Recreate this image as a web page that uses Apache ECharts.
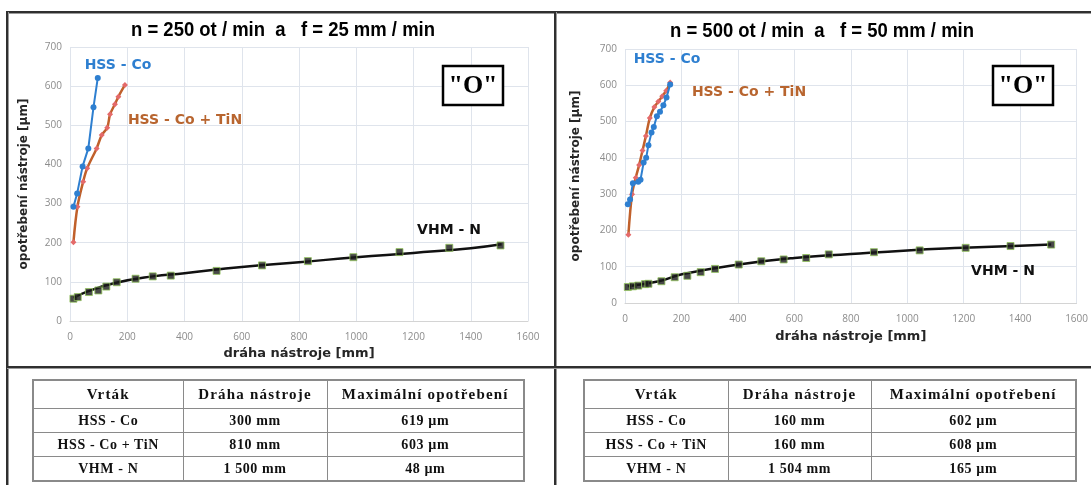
<!DOCTYPE html>
<html><head><meta charset="utf-8">
<script src="https://cdn.jsdelivr.net/npm/echarts@6/dist/echarts.min.js"></script>
<style>
html,body{margin:0;padding:0;background:#fff;}
#wrap{position:relative;width:1091px;height:485px;overflow:hidden;background:#fff;}
#chart{position:absolute;left:0;top:0;width:1091px;height:485px;}
.ln{position:absolute;background:#2f2f2f;}
table.t{position:absolute;border-collapse:collapse;font-family:"Liberation Serif","Times New Roman",serif;font-weight:bold;color:#111;text-align:center;border:2px solid #8a8a8a;table-layout:fixed;}
table.t td{border:1px solid #8a8a8a;padding:0;font-size:14px;letter-spacing:0.6px;white-space:nowrap;}
table.t tr.h td{height:27px;font-size:15px;letter-spacing:1.2px;}
table.t tr.b td{height:23px;}
</style></head>
<body><div id="wrap"><div id="chart"></div></div>
<script>
// ---------- data ----------
const titles = ['n = 250 ot / min  a   f = 25 mm / min', 'n = 500 ot / min  a   f = 50 mm / min'];
const xName = 'dráha nástroje [mm]';
const yName = 'opotřebení nástroje [µm]';
const seriesNames = ['HSS - Co', 'HSS - Co + TiN', 'VHM - N'];

// left chart (n = 250)
const hssL_x = [12, 25, 44, 64, 82, 97];
const hssL_y = [292, 326, 395, 441, 546, 621];
const tinL_x = [12, 26, 46, 60, 93, 111, 130, 140, 157, 169, 192];
const tinL_y = [201, 292, 356, 390, 441, 475, 494, 528, 554, 573, 603];
const vhmL_x = [12, 27, 66, 99, 127, 163, 229, 289, 352, 512, 671, 831, 990, 1151, 1325, 1504];
const vhmL_y = [57, 61, 74, 78, 88, 99, 108, 114, 116, 128, 142, 153, 163, 176, 187, 193];
const vhmLline_x = [12, 60, 157, 289, 400, 600, 800, 1000, 1200, 1400, 1508];
const vhmLline_y = [59, 75, 97, 114, 122, 138, 150, 163, 174, 186, 196];

// right chart (n = 500)
const hssR_x = [10, 18, 28, 47, 55, 66, 75, 83, 94, 102, 113, 124, 136, 147, 160];
const hssR_y = [272, 285, 330, 334, 340, 387, 400, 435, 470, 485, 515, 527, 545, 566, 602];
const tinR_x = [12, 25, 38, 50, 62, 74, 88, 104, 118, 132, 146, 160];
const tinR_y = [188, 300, 345, 380, 420, 460, 510, 540, 555, 570, 585, 608];
const vhmR_x = [10, 28, 47, 71, 83, 129, 176, 221, 268, 319, 403, 483, 562, 642, 722, 882, 1044, 1207, 1366, 1510];
const vhmR_y = [44, 46, 48, 52, 53, 60, 71, 75, 85, 94, 106, 115, 120, 124, 134, 140, 145, 152, 157, 161];
const vhmRline_x = [10, 120, 206, 403, 600, 800, 1000, 1200, 1400, 1510];
const vhmRline_y = [46, 60, 80, 106, 124, 135, 145, 152, 158, 161];

// tables
const tableHead = ['Vrták', 'Dráha nástroje', 'Maximální opotřebení'];
const tableDrills = ['HSS - Co', 'HSS - Co + TiN', 'VHM - N'];
const pathL = ['300 mm', '810 mm', '1 500 mm'];
const wearL = ['619 µm', '603 µm', '48 µm'];
const pathR = ['160 mm', '160 mm', '1 504 mm'];
const wearR = ['602 µm', '608 µm', '165 µm'];

// ---------- styling ----------
const BLUE = '#2E7FD0', BROWN = '#C0602B', RED = '#E46A6A', BLACK = '#111';
const AXF = '"Open Sans", "DejaVu Sans", sans-serif';
const LBF = '"DejaVu Sans", sans-serif';
function pairs(xs, ys) { return xs.map((x, i) => [x, ys[i]]); }
const plain = v => String(v);

function xAx(gi, gap) {
  return {
    type: 'value', gridIndex: gi, min: 0, max: 1600, interval: 200,
    name: xName, nameLocation: 'middle', nameGap: gap,
    nameTextStyle: { fontFamily: LBF, fontWeight: 'bold', fontSize: 13, color: '#262626' },
    axisLine: { show: true, lineStyle: { color: '#d4d4d4' } }, axisTick: { show: false },
    axisLabel: { color: '#8c8c8c', fontSize: 10, margin: 11, fontFamily: AXF, formatter: plain },
    splitLine: { show: true, lineStyle: { color: '#dfe4ec' } }
  };
}
function yAx(gi, gap) {
  return {
    type: 'value', gridIndex: gi, min: 0, max: 700, interval: 100,
    name: yName, nameLocation: 'middle', nameGap: gap,
    nameTextStyle: { fontFamily: LBF, fontWeight: 'bold', fontSize: 12, color: '#262626' },
    axisLine: { show: false }, axisTick: { show: false },
    axisLabel: { color: '#8c8c8c', fontSize: 10, margin: 8, fontFamily: AXF, formatter: plain },
    splitLine: { show: true, lineStyle: { color: '#dfe4ec' } }
  };
}
function tinSeries(gi, xs, ys) {
  return { type: 'line', xAxisIndex: gi, yAxisIndex: gi, data: pairs(xs, ys), smooth: 0.35,
    symbol: 'diamond', symbolSize: 6, showSymbol: true,
    lineStyle: { color: BROWN, width: 2.5 }, itemStyle: { color: RED }, z: 3 };
}
function hssSeries(gi, xs, ys) {
  return { type: 'line', xAxisIndex: gi, yAxisIndex: gi, data: pairs(xs, ys),
    symbol: 'circle', symbolSize: 6, lineStyle: { color: BLUE, width: 2 }, itemStyle: { color: BLUE }, z: 4 };
}
function vhmLine(gi, xs, ys) {
  return { type: 'line', xAxisIndex: gi, yAxisIndex: gi, data: pairs(xs, ys), smooth: true,
    symbol: 'none', lineStyle: { color: BLACK, width: 2.5 }, z: 3 };
}
function vhmPts(gi, xs, ys) {
  return { type: 'scatter', xAxisIndex: gi, yAxisIndex: gi, data: pairs(xs, ys),
    symbol: 'rect', symbolSize: 7, itemStyle: { color: '#1a1a1a', borderColor: '#93c45e', borderWidth: 1 }, z: 5 };
}
function txt(x, y, text, font, fill, sx) {
  return { type: 'text', x: x, y: y, z: 100, scaleX: sx || 1,
    style: { text: text, font: font, fill: fill, textAlign: 'center', textVerticalAlign: 'middle' } };
}
function oBox(x, y) {
  return [
    { type: 'rect', shape: { x: x, y: y, width: 60, height: 39 }, style: { fill: '#fff', stroke: '#000', lineWidth: 2.5 }, z: 100 },
    txt(x + 30, y + 20, '"O"', 'bold 26px "Liberation Serif", serif', '#000')
  ];
}

const TF = 'bold 21px "Liberation Sans", Arial, sans-serif';
const chart = echarts.init(document.getElementById('chart'), null, { renderer: 'canvas' });
chart.setOption({
  animation: false,
  backgroundColor: '#fff',
  grid: [
    { left: 70, top: 47, width: 458, height: 274 },
    { left: 625, top: 49, width: 456, height: 254 }
  ],
  xAxis: [xAx(0, 24), xAx(1, 27)],
  yAxis: [yAx(0, 40), yAx(1, 43)],
  series: [
    vhmLine(0, vhmLline_x, vhmLline_y), vhmPts(0, vhmL_x, vhmL_y),
    tinSeries(0, tinL_x, tinL_y), hssSeries(0, hssL_x, hssL_y),
    vhmLine(1, vhmRline_x, vhmRline_y), vhmPts(1, vhmR_x, vhmR_y),
    hssSeries(1, hssR_x, hssR_y), tinSeries(1, tinR_x, tinR_y)
  ],
  graphic: [
    txt(283, 30, titles[0], TF, '#000', 0.88),
    txt(822, 31, titles[1], TF, '#000', 0.88),
    txt(118, 65, seriesNames[0], 'bold 14px ' + LBF, BLUE),
    txt(185, 120, seriesNames[1], 'bold 14px ' + LBF, '#B8652F'),
    txt(449, 230, seriesNames[2], 'bold 14px ' + LBF, '#111'),
    txt(667, 59, seriesNames[0], 'bold 14px ' + LBF, BLUE),
    txt(749, 92, seriesNames[1], 'bold 14px ' + LBF, '#B8652F'),
    txt(1003, 271, seriesNames[2], 'bold 14px ' + LBF, '#111')
  ].concat(oBox(443, 66), oBox(993, 66))
});

// ---------- frame and tables (HTML) ----------
const wrap = document.getElementById('wrap');
function line(l, t, w, h) {
  const d = document.createElement('div'); d.className = 'ln';
  d.style.left = l + 'px'; d.style.top = t + 'px'; d.style.width = w + 'px'; d.style.height = h + 'px';
  d.style.boxShadow = '1px 1px 0 #9a9a9a';
  wrap.appendChild(d);
}
line(6, 11, 1085, 2);
line(6, 11, 2, 474);
line(554, 11, 2, 474);
line(6, 366, 1085, 2);

function makeTable(left, cols, paths, wears) {
  const t = document.createElement('table'); t.className = 't';
  t.style.left = left + 'px'; t.style.top = '379px';
  const cg = document.createElement('colgroup');
  cols.forEach(w => { const c = document.createElement('col'); c.style.width = w + 'px'; cg.appendChild(c); });
  t.appendChild(cg);
  const h = document.createElement('tr'); h.className = 'h';
  tableHead.forEach(s => { const td = document.createElement('td'); td.textContent = s; h.appendChild(td); });
  t.appendChild(h);
  tableDrills.forEach((d, i) => {
    const r = document.createElement('tr'); r.className = 'b';
    [d, paths[i], wears[i]].forEach(s => { const td = document.createElement('td'); td.textContent = s; r.appendChild(td); });
    t.appendChild(r);
  });
  wrap.appendChild(t);
}
makeTable(32, [150, 144, 197], pathL, wearL);
makeTable(583, [144, 143, 205], pathR, wearR);
</script></body></html>
